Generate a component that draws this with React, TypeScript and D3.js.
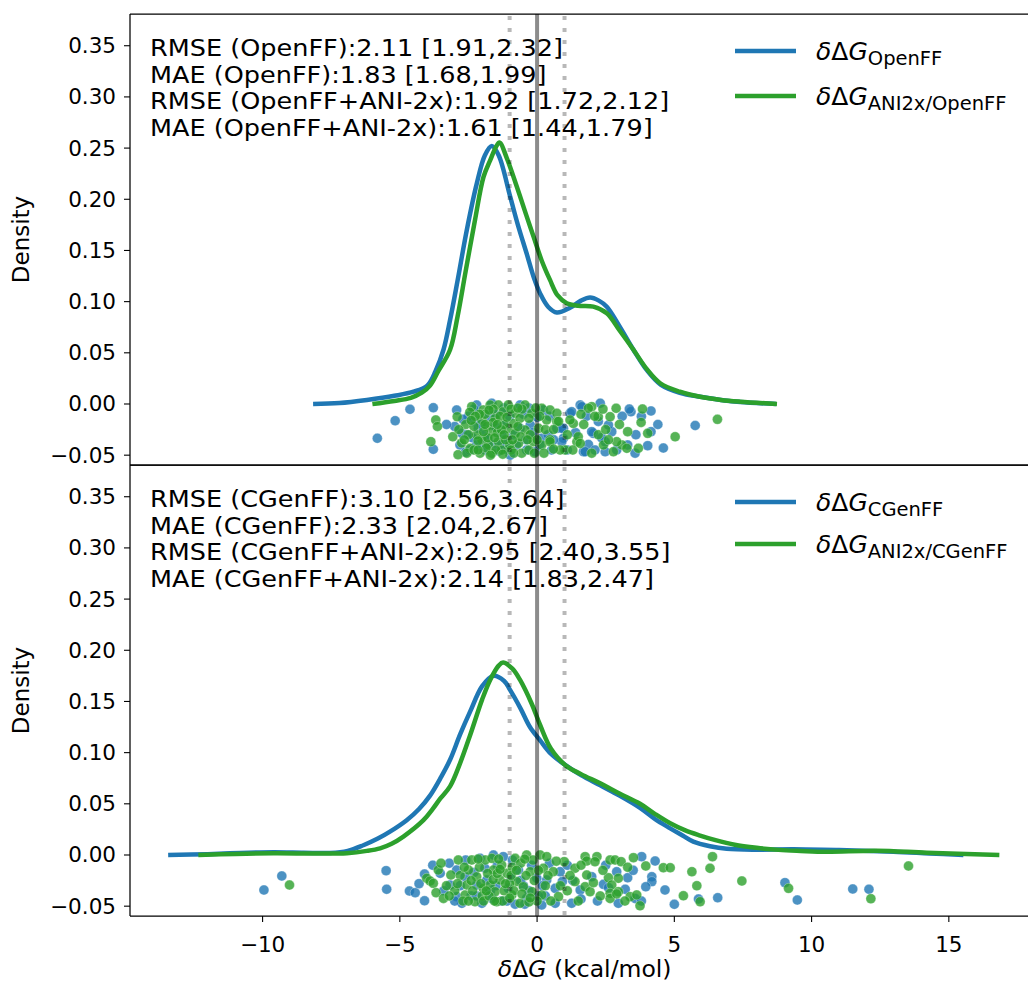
import React from "react";
import * as d3 from "d3";

// ---------- data ----------
const yTicks = [-0.05, 0.0, 0.05, 0.1, 0.15, 0.2, 0.25, 0.3, 0.35];
const xTicks = [-10, -5, 0, 5, 10, 15];

const topStats = [
  "RMSE (OpenFF):2.11 [1.91,2.32]",
  "MAE (OpenFF):1.83 [1.68,1.99]",
  "RMSE (OpenFF+ANI-2x):1.92 [1.72,2.12]",
  "MAE (OpenFF+ANI-2x):1.61 [1.44,1.79]",
];
const bottomStats = [
  "RMSE (CGenFF):3.10 [2.56,3.64]",
  "MAE (CGenFF):2.33 [2.04,2.67]",
  "RMSE (CGenFF+ANI-2x):2.95 [2.40,3.55]",
  "MAE (CGenFF+ANI-2x):2.14 [1.83,2.47]",
];
const topLegend = ["OpenFF", "ANI2x/OpenFF"];
const bottomLegend = ["CGenFF", "ANI2x/CGenFF"];

// KDE curves [x, density]
const kdeOpenFF: [number, number][] = [
  [-8.16, 0], [-7.2, 0.001], [-6.2, 0.004], [-5.2, 0.008], [-4.5, 0.012], [-4.0, 0.018],
  [-3.7, 0.032], [-3.41, 0.053], [-3.17, 0.082], [-2.9, 0.12], [-2.56, 0.17], [-2.2, 0.215],
  [-1.9, 0.243], [-1.65, 0.252], [-1.4, 0.243], [-0.98, 0.2026], [-0.7, 0.175], [-0.38, 0.147],
  [-0.1, 0.122], [0.11, 0.108], [0.4, 0.095], [0.72, 0.0893], [1.2, 0.094], [1.6, 0.101],
  [1.93, 0.104], [2.25, 0.101], [2.54, 0.095], [3.0, 0.076], [3.51, 0.053], [4.0, 0.033],
  [4.5, 0.019], [5.2, 0.011], [5.94, 0.007], [6.7, 0.004], [7.4, 0.002], [8.7, 0],
];
const kdeANIOpenFF: [number, number][] = [
  [-6.0, 0], [-5.2, 0.003], [-4.6, 0.006], [-4.2, 0.011], [-3.9, 0.018], [-3.6, 0.032],
  [-3.17, 0.053], [-2.9, 0.085], [-2.6, 0.13], [-2.26, 0.18], [-1.95, 0.222], [-1.71, 0.238],
  [-1.5, 0.251], [-1.37, 0.2554], [-1.1, 0.24], [-0.74, 0.2124], [-0.4, 0.185], [-0.13, 0.1636],
  [0.17, 0.14], [0.47, 0.1212], [0.75, 0.106], [1.08, 0.0984], [1.5, 0.096], [2.05, 0.0951],
  [2.54, 0.0886], [3.0, 0.072], [3.51, 0.053], [4.0, 0.034], [4.5, 0.02], [5.2, 0.012],
  [5.94, 0.007], [6.7, 0.004], [7.4, 0.0023], [8.74, 0],
];
const kdeCGenFF: [number, number][] = [
  [-13.44, 0], [-12, 0.0008], [-10.8, 0.002], [-9.6, 0.0026], [-8.5, 0.0022], [-7.54, 0.002],
  [-6.9, 0.004], [-6.33, 0.0095], [-5.8, 0.016], [-5.36, 0.0228], [-4.75, 0.034], [-4.3, 0.045],
  [-3.9, 0.058], [-3.5, 0.076], [-3.17, 0.093], [-2.8, 0.118], [-2.44, 0.14], [-2.0, 0.165],
  [-1.6, 0.175], [-1.2, 0.17], [-0.98, 0.161], [-0.6, 0.143], [-0.26, 0.125], [0.11, 0.112],
  [0.5, 0.099], [1.02, 0.088], [1.6, 0.078], [2.3, 0.068], [3.0, 0.058], [3.75, 0.046],
  [4.3, 0.035], [4.85, 0.026], [5.3, 0.019], [5.69, 0.013], [6.3, 0.0085], [6.91, 0.006],
  [8.0, 0.0052], [9.34, 0.0056], [11.0, 0.0048], [12.98, 0.0032], [14.3, 0.0015], [15.53, 0],
];
const kdeANICGenFF: [number, number][] = [
  [-12.34, 0], [-11, 0.001], [-9.6, 0.0016], [-8, 0.0014], [-6.93, 0.0018], [-6.2, 0.004],
  [-5.72, 0.0065], [-5.3, 0.011], [-4.87, 0.018], [-4.14, 0.034], [-3.8, 0.045], [-3.53, 0.055],
  [-3.17, 0.067], [-2.8, 0.09], [-2.44, 0.117], [-2.0, 0.152], [-1.71, 0.171], [-1.4, 0.185],
  [-1.24, 0.188], [-0.9, 0.182], [-0.62, 0.171], [-0.2, 0.148], [0.11, 0.127], [0.5, 0.104],
  [1.02, 0.088], [1.6, 0.079], [2.3, 0.07], [3.0, 0.06], [3.75, 0.05], [4.3, 0.04],
  [4.85, 0.031], [5.4, 0.024], [5.94, 0.019], [6.5, 0.0145], [7.2, 0.01], [8.0, 0.007],
  [8.8, 0.005], [9.6, 0.004], [10.55, 0.0032], [12.37, 0.0042], [14.2, 0.0023], [16.84, 0],
];

// scatter points [x, jitter-y]
const ptsOpenFF: [number, number][] = [
  [-5.82, -0.0335], [-5.17, -0.0163], [-4.63, -0.0052], [-3.78, -0.0036], [-3.78, -0.0443],
  [-2.93, -0.0059], [-2.74, -0.0287], [-2.81, -0.04], [-2.2, -0.001], [-2.32, -0.017],
  [-2.36, -0.033], [-2.14, -0.0238], [-1.65, 0.0007], [-1.53, -0.022], [-1.89, -0.045],
  [-1.29, -0.03], [-1.17, -0.0205], [-1.1, -0.0385], [-0.98, -0.05], [-0.62, -0.001],
  [-0.62, -0.0238], [-0.38, -0.045], [-0.25, -0.0205], [-0.07, -0.0466], [0.23, -0.0059],
  [0.17, -0.0335], [0.53, -0.045], [0.72, -0.0238], [0.96, -0.0238], [0.96, -0.0335],
  [1.2, -0.009], [1.69, -0.0466], [1.57, -0.001], [2.3, 0.0007], [2.05, -0.0287],
  [2.48, -0.0368], [2.72, -0.027], [1.63, -0.0026], [2.6, -0.0205], [1.99, -0.027],
  [1.87, -0.0395], [2.11, -0.045], [2.48, -0.0466], [1.75, -0.0466], [0.9, -0.0368],
  [1.26, -0.0075], [0.9, -0.0238], [2.23, -0.017], [3.42, -0.0075], [3.36, -0.005],
  [4.15, -0.0068], [4.15, -0.027], [4.03, -0.0407], [3.57, -0.048], [3.3, -0.04],
  [4.6, -0.043], [5.76, -0.021], [-2.5, -0.012], [-2.0, -0.038], [-1.75, -0.012],
  [-1.4, -0.046], [-0.85, -0.03], [-0.5, -0.01], [-2.6, -0.047], [-1.2, -0.004],
  [0.0, -0.013], [0.4, -0.03], [-3.0, -0.022], [-2.2, -0.04], [-1.9, -0.03],
  [-2.7, -0.015], [-2.45, -0.045], [-2.3, -0.005], [-2.05, -0.02], [-1.8, -0.035],
  [-1.5, -0.01], [-1.35, -0.04], [-1.0, -0.012], [-0.75, -0.04], [-0.4, -0.035],
  [-0.15, -0.028], [0.1, -0.04], [0.45, -0.012], [1.4, -0.028], [1.8, -0.012],
  [2.35, -0.033], [2.9, -0.045], [3.1, -0.012], [3.6, -0.03], [4.4, -0.02],
  [-3.3, -0.02], [-2.55, -0.03], [-1.65, -0.04], [-1.05, -0.045], [-0.3, -0.004],
  [0.6, -0.035], [1.1, -0.045], [3.8, -0.012],
];
const ptsANIOpenFF: [number, number][] = [
  [-3.69, -0.0156], [-3.63, -0.022], [-3.87, -0.0368], [-2.91, -0.0124], [-3.07, -0.032],
  [-2.88, -0.0495], [-2.38, -0.0026], [-2.44, -0.0433], [-2.56, -0.048], [-1.96, -0.0059],
  [-1.71, -0.001], [-1.41, -0.001], [-2.01, -0.0156], [-1.83, -0.022], [-1.53, -0.014],
  [-1.65, -0.027], [-2.01, -0.035], [-1.77, -0.04], [-2.08, -0.048], [-1.65, -0.048],
  [-1.41, -0.0368], [-1.23, -0.0075], [-1.05, -0.001], [-1.05, -0.0238], [-1.29, -0.045],
  [-0.8, -0.0091], [-0.86, -0.019], [-0.44, -0.001], [-0.62, -0.014], [-0.8, -0.0287],
  [-0.44, -0.0254], [-0.68, -0.0385], [-0.56, -0.048], [-0.19, -0.0091], [-0.13, -0.0368],
  [0.05, -0.0238], [0.17, -0.0042], [0.47, -0.0059], [0.35, -0.0156], [0.47, -0.035],
  [0.17, -0.04], [0.72, -0.0091], [0.72, -0.017], [0.47, -0.0368], [1.02, -0.045],
  [1.32, -0.019], [1.45, -0.037], [1.99, -0.0026], [2.23, -0.03], [1.99, -0.048],
  [2.66, -0.0124], [2.78, -0.0466], [3.09, -0.04], [1.87, -0.0042], [2.23, -0.0124],
  [1.5, -0.032], [1.57, -0.0385], [2.42, -0.04], [2.9, -0.0368], [0.84, -0.045],
  [0.78, -0.017], [1.2, -0.0156], [2.88, -0.0042], [3.84, -0.0049], [3.79, -0.018],
  [4.03, -0.0287], [3.3, -0.027], [3.69, -0.0433], [3.27, -0.0433], [5.03, -0.032],
  [6.57, -0.015], [-2.2, -0.03], [-1.9, -0.01], [-1.6, -0.005], [-1.2, -0.02],
  [-1.0, -0.04], [-0.3, -0.045], [-2.3, -0.045], [-1.8, -0.033], [-1.45, -0.028],
  [-2.6, -0.02], [-2.45, -0.008], [-2.3, -0.022], [-2.15, -0.036], [-2.1, -0.01],
  [-1.95, -0.027], [-1.85, -0.043], [-1.75, -0.006], [-1.6, -0.018], [-1.55, -0.033],
  [-1.5, -0.045], [-1.35, -0.012], [-1.3, -0.025], [-1.15, -0.035], [-1.1, -0.013],
  [-0.95, -0.005], [-0.95, -0.045], [-0.7, -0.022], [-0.6, -0.032], [-0.55, -0.005],
  [-0.3, -0.014], [-0.25, -0.03], [-0.05, -0.004], [-0.1, -0.048], [0.3, -0.025],
  [0.6, -0.044], [0.25, -0.048], [-2.75, -0.038], [-2.5, -0.03], [-2.25, -0.012],
  [-1.7, -0.05], [-1.25, -0.049], [-0.85, -0.048], [1.1, -0.03], [1.7, -0.02],
  [2.5, -0.025], [2.1, -0.012], [3.0, -0.02], [2.6, -0.035], [1.3, -0.045],
  [-2.85, -0.025], [-2.65, -0.035], [-2.4, -0.016], [-2.15, -0.045], [-1.9, -0.02],
  [-1.45, -0.02], [-1.2, -0.03], [-0.9, -0.035], [-0.7, -0.004], [-0.35, -0.035],
  [0.0, -0.035], [0.1, -0.012], [0.6, -0.025], [1.6, -0.01], [2.4, -0.005],
];
const ptsCGenFF: [number, number][] = [
  [-9.95, -0.0342], [-9.3, -0.0205], [-5.5, -0.0153], [-5.48, -0.0335], [-4.65, -0.0352],
  [-4.44, -0.0368], [-4.1, -0.0447], [-4.1, -0.0186], [-3.53, -0.0179], [-3.17, -0.0293],
  [-2.93, -0.0147], [-2.93, -0.0407], [-2.74, -0.0472], [-2.62, -0.0212], [-2.08, -0.0033],
  [-2.2, -0.0293], [-2.01, -0.0472], [-1.83, -0.0244], [-1.59, 0], [-1.65, -0.0424],
  [-1.23, -0.0016], [-1.05, -0.0326], [-0.68, -0.0147], [-0.38, -0.0424], [-0.01, -0.0228],
  [0.17, -0.0489], [0.35, -0.0244], [0.66, -0.0326], [0.66, -0.0472], [0.84, -0.0163],
  [0.92, -0.026], [1.26, -0.0472], [1.99, -0.0212], [1.57, -0.0342], [2.42, -0.0287],
  [2.9, -0.0163], [3.3, -0.0222], [3.21, -0.0335], [3.57, -0.0424], [2.96, -0.0472],
  [3.81, -0.0016], [4.3, -0.0059], [4.18, -0.0212], [4.18, -0.026], [3.96, -0.031],
  [4.66, -0.0342], [5.0, -0.0482], [5.88, -0.043], [6.58, -0.0417], [9.03, -0.027],
  [9.48, -0.044], [11.5, -0.0332], [12.09, -0.0335], [-2.4, -0.04], [-1.3, -0.045],
  [-0.8, -0.048], [-0.2, -0.01], [0.3, -0.04], [-2.8, -0.03], [-1.9, -0.013], [-0.5, -0.03],
  [-3.4, -0.035], [-3.0, -0.045], [-2.6, -0.005], [-2.3, -0.017], [-1.7, -0.035],
  [-1.45, -0.01], [-1.1, -0.045], [-0.9, -0.005], [-0.6, -0.025], [-0.3, -0.035],
  [0.05, -0.04], [0.45, -0.008], [1.1, -0.01], [1.6, -0.043], [2.2, -0.045],
  [2.6, -0.032], [3.5, -0.015], [-4.3, -0.028],
  [-3.8, -0.01], [-3.2, -0.008], [-2.2, -0.04], [-1.5, -0.03], [-0.95, -0.022],
  [-0.45, -0.048], [0.2, -0.03], [1.3, -0.025], [2.5, -0.01], [3.8, -0.045],
];
const ptsANICGenFF: [number, number][] = [
  [-9.02, -0.0293], [-4.02, -0.0228], [-3.9, -0.0254], [-3.6, -0.0147], [-3.78, -0.0277],
  [-3.68, -0.0368], [-3.41, -0.0424], [-3.14, -0.0196], [-2.87, -0.0049], [-2.62, -0.039],
  [-2.56, -0.0293], [-2.5, -0.0147], [-2.38, -0.0049], [-2.2, -0.0212], [-2.26, -0.0456],
  [-1.96, -0.0326], [-1.89, -0.0049], [-1.65, -0.0033], [-1.59, -0.0147], [-1.71, -0.0293],
  [-1.53, -0.0358], [-1.47, -0.0456], [-1.35, -0.0244], [-1.29, -0.0098], [-1.1, -0.0179],
  [-0.92, -0.039], [-0.8, -0.0033], [-0.74, -0.026], [-0.62, -0.0472], [-0.5, -0.031],
  [-0.38, 0], [-0.25, -0.0163], [-0.19, -0.0358], [0.11, 0], [0.35, -0.0016],
  [0.23, -0.013], [0.17, -0.039], [0.59, -0.0163], [0.99, -0.0065], [1.38, -0.013],
  [0.78, -0.0407], [1.75, -0.0016], [1.81, -0.0059], [2.18, -0.0016], [2.11, -0.0065],
  [1.81, -0.0196], [1.38, -0.026], [1.75, -0.031], [1.93, -0.0358], [2.66, -0.0049],
  [2.84, -0.0049], [3.06, -0.0065], [2.6, -0.0222], [2.96, -0.0228], [2.72, -0.0293],
  [2.66, -0.0374], [2.96, -0.0358], [2.66, -0.0424], [3.39, -0.0407], [3.63, -0.039],
  [3.75, -0.0496], [3.51, -0.0026], [3.96, -0.0107], [4.6, -0.0124], [4.85, -0.0124],
  [5.33, -0.0398], [5.64, -0.0163], [5.82, -0.03], [5.94, -0.0456], [6.3, -0.013],
  [6.39, -0.0016], [7.46, -0.0254], [9.16, -0.0326], [12.16, -0.0427], [13.53, -0.0107],
  [-2.0, -0.04], [-1.2, -0.035], [-0.9, -0.012], [-0.4, -0.02], [0.0, -0.045],
  [-1.8, -0.018], [-2.7, -0.045], [-1.0, -0.028],
  [-3.0, -0.035], [-2.8, -0.02], [-2.35, -0.035], [-2.1, -0.012], [-1.95, -0.045],
  [-1.75, -0.04], [-1.6, -0.024], [-1.4, -0.004], [-1.25, -0.045], [-1.15, -0.028],
  [-0.95, -0.02], [-0.85, -0.035], [-0.6, -0.008], [-0.55, -0.038], [-0.3, -0.046],
  [-0.15, -0.005], [-0.1, -0.025], [0.3, -0.03], [0.5, -0.045], [0.7, -0.006],
  [1.1, -0.035], [1.5, -0.045], [2.3, -0.04], [2.4, -0.015], [3.2, -0.045],
  [3.3, -0.012], [1.2, -0.02], [-1.45, -0.018], [-2.5, -0.045], [-3.3, -0.03],
  [-3.5, -0.008], [-3.2, -0.04], [-2.9, -0.028], [-2.65, -0.012], [-2.4, -0.025],
  [-2.15, -0.004], [-2.05, -0.028], [-1.85, -0.035], [-1.55, -0.045], [-1.35, -0.014],
  [-1.0, -0.042], [-0.75, -0.015], [-0.45, -0.004], [-0.25, -0.042], [0.05, -0.015],
  [0.4, -0.02], [0.85, -0.03], [1.6, -0.01], [2.05, -0.027], [2.9, -0.038],
];

// ---------- layout ----------
const W = 1028;
const H = 986;
const LEFT = 130;
const PX_PER_UNIT = 27.45;
const X_MIN = -14.83;
const X_MAX = 18.3;
const Y_MIN = -0.0596;
const Y_MAX = 0.381;
const panels = [
  { top: 14, bottom: 465 },
  { top: 465, bottom: 916 },
];
const BLUE = "#1f77b4";
const GREEN = "#2ca02c";
const FONT = "DejaVu Sans";
const STATS_X = 150;
const STATS_SX = 1.13;

const xScale = d3
  .scaleLinear()
  .domain([X_MIN, X_MAX])
  .range([LEFT, LEFT + (X_MAX - X_MIN) * PX_PER_UNIT]);

function Panel({
  top,
  bottom,
  curves,
  points,
  stats,
  legend,
  legendY,
  showX,
}: {
  top: number;
  bottom: number;
  curves: [number, number][][];
  points: [number, number][][];
  stats: string[];
  legend: string[];
  legendY: number[];
  showX: boolean;
}) {
  const y = d3.scaleLinear().domain([Y_MIN, Y_MAX]).range([bottom, top]);
  const line = d3
    .line<[number, number]>()
    .x((d) => xScale(d[0]))
    .y((d) => y(d[1]))
    .curve(d3.curveCatmullRom.alpha(0.5));
  const colors = [BLUE, GREEN];
  const right = xScale.range()[1];
  const clipId = `clip-${top}`;
  return (
    <g>
      <defs>
        <clipPath id={clipId}>
          <rect x={LEFT} y={top} width={right - LEFT} height={bottom - top} />
        </clipPath>
      </defs>
      <g clipPath={`url(#${clipId})`}>
        {curves.map((c, i) => (
          <path
            key={i}
            d={line(c) || ""}
            fill="none"
            stroke={colors[i]}
            strokeWidth={4.5}
            strokeLinejoin="round"
            strokeLinecap="butt"
          />
        ))}
        {points.map((ps, i) =>
          ps.map((p, j) => (
            <circle
              key={`${i}-${j}`}
              cx={xScale(p[0])}
              cy={y(p[1])}
              r={5}
              fill={colors[i]}
              fillOpacity={0.8}
              stroke="#ffffff"
              strokeOpacity={0.3}
              strokeWidth={1}
            />
          ))
        )}
        <line x1={xScale(0)} x2={xScale(0)} y1={top} y2={bottom} stroke="#000" strokeOpacity={0.45} strokeWidth={4} />
        {[-1, 1].map((v) => (
          <line
            key={v}
            x1={xScale(v)}
            x2={xScale(v)}
            y1={top + 2}
            y2={bottom}
            stroke="#000"
            strokeOpacity={0.28}
            strokeWidth={4}
            strokeDasharray="4,8"
          />
        ))}
      </g>
      {/* spines */}
      <line x1={LEFT} x2={LEFT} y1={top} y2={bottom} stroke="#000" strokeWidth={1.25} />
      <line x1={LEFT} x2={W + 20} y1={top} y2={top} stroke="#000" strokeWidth={1.25} />
      <line x1={LEFT} x2={W + 20} y1={bottom} y2={bottom} stroke="#000" strokeWidth={1.25} />
      {/* y ticks */}
      {yTicks.map((t) => (
        <g key={t}>
          <line x1={LEFT - 6} x2={LEFT} y1={y(t)} y2={y(t)} stroke="#000" strokeWidth={1.1} />
          <text x={LEFT - 14} y={y(t) + 7.5} textAnchor="end" fontSize={21.5} fontFamily={FONT}>
            {t < 0 ? "\u2212" + Math.abs(t).toFixed(2) : t.toFixed(2)}
          </text>
        </g>
      ))}
      <text
        transform={`translate(29,${(top + bottom) / 2}) rotate(-90)`}
        textAnchor="middle"
        fontSize={23}
        fontFamily={FONT}
      >
        Density
      </text>
      {/* stats text */}
      <g transform={`translate(${STATS_X},0) scale(${STATS_SX},1)`}>
        {stats.map((s, i) => (
          <text key={i} x={0} y={top + 42 + i * 26.7} fontSize={22.6} fontFamily={FONT}>
            {s}
          </text>
        ))}
      </g>
      {/* legend */}
      {legend.map((l, i) => (
        <g key={l}>
          <line x1={735} x2={796} y1={legendY[i]} y2={legendY[i]} stroke={colors[i]} strokeWidth={4.5} />
          <text x={816} y={legendY[i] + 9} fontSize={25} fontFamily={FONT}>
            <tspan fontStyle="italic">δ</tspan>
            <tspan>Δ</tspan>
            <tspan fontStyle="italic">G</tspan>
            <tspan fontSize={19.5} dy={5}>
              {l}
            </tspan>
          </text>
        </g>
      ))}
      {showX &&
        xTicks.map((t) => (
          <g key={t}>
            <line x1={xScale(t)} x2={xScale(t)} y1={bottom} y2={bottom + 6} stroke="#000" strokeWidth={1.1} />
            <text x={xScale(t)} y={bottom + 36} textAnchor="middle" fontSize={21.5} fontFamily={FONT}>
              {t < 0 ? "\u2212" + Math.abs(t) : String(t)}
            </text>
          </g>
        ))}
    </g>
  );
}

export default function App() {
  const xMid = (xScale.range()[0] + xScale.range()[1]) / 2;
  return (
    <svg
      width={W}
      height={H}
      viewBox={`0 0 ${W} ${H}`}
      style={{ position: "absolute", left: 0, top: 0, background: "#fff" }}
    >
      <rect x={0} y={0} width={W} height={H} fill="#fff" />
      <Panel
        top={panels[0].top}
        bottom={panels[0].bottom}
        curves={[kdeOpenFF, kdeANIOpenFF]}
        points={[ptsOpenFF, ptsANIOpenFF]}
        stats={topStats}
        legend={topLegend}
        legendY={[51, 96]}
        showX={false}
      />
      <Panel
        top={panels[1].top}
        bottom={panels[1].bottom}
        curves={[kdeCGenFF, kdeANICGenFF]}
        points={[ptsCGenFF, ptsANICGenFF]}
        stats={bottomStats}
        legend={bottomLegend}
        legendY={[502, 544]}
        showX={true}
      />
      <text x={xMid} y={977} textAnchor="middle" fontSize={23.5} fontFamily={FONT}>
        <tspan fontStyle="italic">δ</tspan>
        <tspan>Δ</tspan>
        <tspan fontStyle="italic">G</tspan>
        <tspan> (kcal/mol)</tspan>
      </text>
    </svg>
  );
}
